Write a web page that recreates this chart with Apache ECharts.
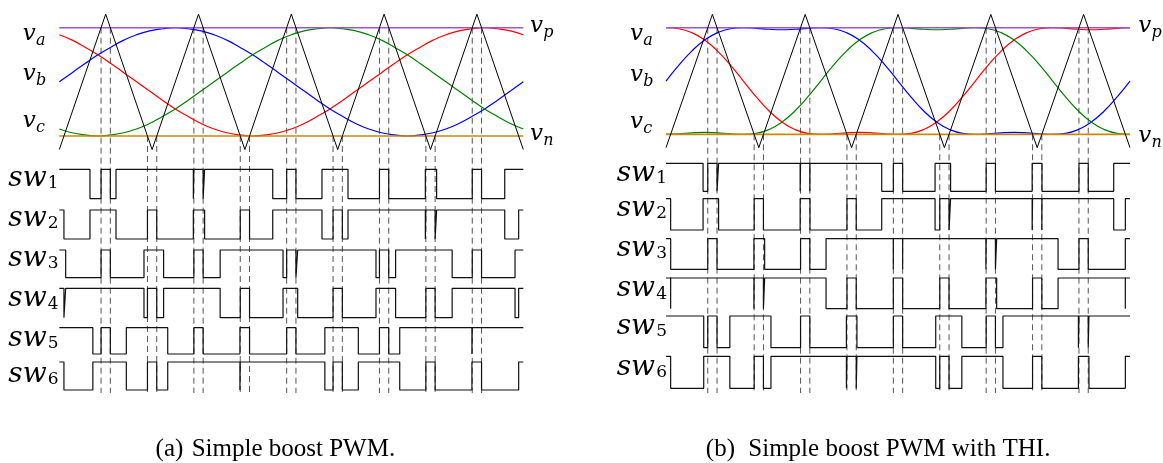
<!DOCTYPE html>
<html><head><meta charset="utf-8">
<script src="https://cdn.jsdelivr.net/npm/echarts@6/dist/echarts.min.js"></script>
<style>html,body{margin:0;padding:0;background:#fff}#c{width:1163px;height:463px}</style>
</head><body><div id="c"></div>
<script>
// ---------- DATA (angle in degrees over one fundamental period) ----------
const theta = [0,10,20,30,40,50,60,70,80,90,100,110,120,130,140,150,160,170,180,190,200,210,220,230,240,250,260,270,280,290,300,310,320,330,340,350,360];
// (a) simple boost: sinusoidal references
const vaA = [0.87,0.77,0.64,0.5,0.34,0.17,0,-0.17,-0.34,-0.5,-0.64,-0.77,-0.87,-0.94,-0.98,-1,-0.98,-0.94,-0.87,-0.77,-0.64,-0.5,-0.34,-0.17,0,0.17,0.34,0.5,0.64,0.77,0.87,0.94,0.98,1,0.98,0.94,0.87];
const vbA = [0,0.17,0.34,0.5,0.64,0.77,0.87,0.94,0.98,1,0.98,0.94,0.87,0.77,0.64,0.5,0.34,0.17,0,-0.17,-0.34,-0.5,-0.64,-0.77,-0.87,-0.94,-0.98,-1,-0.98,-0.94,-0.87,-0.77,-0.64,-0.5,-0.34,-0.17,0];
const vcA = [-0.87,-0.94,-0.98,-1,-0.98,-0.94,-0.87,-0.77,-0.64,-0.5,-0.34,-0.17,0,0.17,0.34,0.5,0.64,0.77,0.87,0.94,0.98,1,0.98,0.94,0.87,0.77,0.64,0.5,0.34,0.17,0,-0.17,-0.34,-0.5,-0.64,-0.77,-0.87];
// (b) with third harmonic injection
const vaB = [1.0,0.981,0.909,0.770,0.562,0.297,0,-0.297,-0.562,-0.770,-0.909,-0.981,-1.0,-0.989,-0.971,-0.962,-0.971,-0.989,-1.0,-0.981,-0.909,-0.770,-0.562,-0.297,0,0.297,0.562,0.770,0.909,0.981,1.0,0.989,0.971,0.962,0.971,0.989,1.0];
const vbB = [0,0.297,0.562,0.770,0.909,0.981,1.0,0.989,0.971,0.962,0.971,0.989,1.0,0.981,0.909,0.770,0.562,0.297,0,-0.297,-0.562,-0.770,-0.909,-0.981,-1.0,-0.989,-0.971,-0.962,-0.971,-0.989,-1.0,-0.981,-0.909,-0.770,-0.562,-0.297,0];
const vcB = [-1.0,-0.989,-0.971,-0.962,-0.971,-0.989,-1.0,-0.981,-0.909,-0.770,-0.562,-0.297,0,0.297,0.562,0.770,0.909,0.981,1.0,0.989,0.971,0.962,0.971,0.989,1.0,0.981,0.909,0.770,0.562,0.297,0,-0.297,-0.562,-0.770,-0.909,-0.981,-1.0];
// triangular carrier and DC rails
const carrierT = [0,36,72,108,144,180,216,252,288,324,360];
const carrierV = [-1.25,1.25,-1.25,1.25,-1.25,1.25,-1.25,1.25,-1.25,1.25,-1.25];
const railP = 1, railN = -1;
// shoot-through boundaries (carrier beyond vp / below vn)
const stPeak = [32.4,39.6,104.4,111.6,176.4,183.6,248.4,255.6,320.4,327.6];
const stTrough = [68.4,75.6,140.4,147.6,212.4,219.6,284.4,291.6];
// switching signals: intervals where the switch is ON
const sw1A = [[0,23.8],[32.4,39.6],[44,104],[104.4,111.6],[112.75,165.6],[176.4,183.6],[203.8,224],[248.4,255.6],[284,292.75],[320.4,327.6],[345.6,360]];
const sw2A = [[0,3.6],[23.8,44],[68.4,75.6],[104,112.75],[140.4,147.6],[165.6,203.8],[212.4,219.6],[224,284],[284.4,291.6],[292.75,345.6],[356.4,360]];
const sw3A = [[0,4.95],[32.4,39.6],[65.7,80.93],[104.4,111.6],[124.8,173.58],[176.4,183.6],[184.95,245.7],[248.4,255.6],[260.93,304.8],[320.4,327.6],[353.58,360]];
const sw4A = [[0,3.6],[4.95,65.7],[68.4,75.6],[80.93,124.8],[140.4,147.6],[173.58,184.95],[212.4,219.6],[245.7,260.93],[284.4,291.6],[304.8,353.58],[356.4,360]];
const sw5A = [[0,26.03],[32.4,39.6],[52,84.12],[104.4,111.6],[140.15,147.61],[176.4,183.6],[206.03,232],[248.4,255.6],[264.12,320.15],[320.4,360]];
const sw6A = [[0,3.6],[26.03,52],[68.4,75.6],[84.12,140.15],[140.4,206.03],[212.4,219.6],[232,264.12],[284.4,291.6],[320.15,327.61],[356.4,360]];
const sw1B = [[0,28.77],[32.4,39.6],[40.8,104.08],[104.4,111.6],[111.71,167.36],[176.4,183.6],[208.77,220.8],[248.4,255.6],[284.08,291.71],[320.4,327.6],[347.36,360]];
const sw2B = [[0,3.6],[28.77,40.8],[68.4,75.6],[104.08,111.71],[140.4,147.6],[167.36,208.77],[212.4,219.6],[220.8,284.08],[284.4,291.6],[291.71,347.36],[356.4,360]];
const sw3B = [[0,3.63],[32.4,39.6],[68.22,76.55],[104.4,111.6],[124.18,176.37],[176.4,183.6],[183.63,248.22],[248.4,255.6],[256.55,304.18],[320.4,327.6],[356.37,360]];
const sw4B = [[0,3.6],[3.63,68.22],[68.4,75.6],[76.55,124.18],[140.4,147.6],[176.37,183.63],[212.4,219.6],[248.22,256.55],[284.4,291.6],[304.18,356.37],[356.4,360]];
const sw5B = [[0,29.26],[32.4,39.6],[49.54,81.43],[104.4,111.6],[139.97,148.14],[176.4,183.6],[209.26,229.54],[248.4,255.6],[261.43,319.97],[320.4,327.6],[328.14,360]];
const sw6B = [[0,3.6],[29.26,49.54],[68.4,75.6],[81.43,139.97],[140.4,147.6],[148.14,209.26],[212.4,219.6],[229.54,261.43],[284.4,291.6],[319.97,328.14],[356.4,360]];
const refLabels = ['a','b','c'];
const swLabels = ['1','2','3','4','5','6'];
const captions = [['(a)','Simple boost PWM.'],['(b)','Simple boost PWM with THI.']];

// ---------- LAYOUT ----------
const W = 464;
const panels = [
  {left:59.3, waveTop:14.15, waveH:135.4, vpPx:27.7, vnPx:136.0, bottom:393,
   rows:[[169.3,198.7],[210,239],[250,277.7],[288.3,317.7],[327.7,354],[362,390]],
   waves:[vaA,vbA,vcA], sws:[sw1A,sw2A,sw3A,sw4A,sw5A,sw6A],
   refLab:{x:22.7, ys:[34.2,74.2,120.8]}, railLab:{x:530, yp:25.8, yn:134},
   swLab:{x:8.3, ys:[178.3,218.3,258.5,299.2,338.8,374.8]},
   cap:{xr:183.3, xl:191.7, y:449}},
  {left:666, waveTop:14.4, waveH:133.25, vpPx:27.7, vnPx:134.3, bottom:393,
   rows:[[163.3,191.3],[198.7,230],[238.7,269.3],[278,308.7],[316,347.7],[356.3,388.3]],
   waves:[vaB,vbB,vcB], sws:[sw1B,sw2B,sw3B,sw4B,sw5B,sw6B],
   refLab:{x:630, ys:[34.2,75,122.5]}, railLab:{x:1138.3, yp:25.8, yn:135.8},
   swLab:{x:616.7, ys:[173.3,208.3,248.8,289.2,326.7,367.5]},
   cap:{xr:735, xl:748.3, y:449}}
];
const waveColors = ['#ff0000','#0000ff','#008000'];
const colP = '#9b55d8', colN = '#c98a06';

const grids=[], xAxes=[], yAxes=[], series=[], graphics=[];
function addGrid(left, top, height, ymin, ymax){
  const i = grids.length;
  grids.push({left:left, top:top, width:W, height:height});
  xAxes.push({type:'value', gridIndex:i, min:0, max:360, show:false});
  yAxes.push({type:'value', gridIndex:i, min:ymin, max:ymax, show:false});
  return i;
}
function stepData(iv){
  const pts=[];
  if(iv[0][0] > 0) pts.push([0,0]);
  for(const [a,b] of iv){
    if(a>0){ pts.push([a,0]); pts.push([a,1]); } else pts.push([0,1]);
    pts.push([b,1]);
    if(b<360) pts.push([b,0]);
  }
  if(iv[iv.length-1][1] < 360) pts.push([360,0]);
  return pts;
}
function dashData(list){
  const d=[];
  list.forEach(t=>{ d.push([t,1]); d.push([t,0]); d.push([t,'-']); });
  return d;
}
function text(x,y,str,font,align){
  graphics.push({type:'text', x:x, y:y, silent:true, z:100,
    style:{text:str, font:font, fill:'#000', align:align||'left', verticalAlign:'middle'}});
}
const mathFont = s => 'italic '+s+'px "DejaVu Serif"';

panels.forEach(p=>{
  // dashed shoot-through markers
  const gP = addGrid(p.left, p.vpPx, p.bottom-p.vpPx, 0, 1);
  const gT = addGrid(p.left, p.vnPx, p.bottom-p.vnPx, 0, 1);
  [[gP,stPeak],[gT,stTrough]].forEach(([g,l])=>{
    series.push({type:'line', xAxisIndex:g, yAxisIndex:g, data:dashData(l), connectNulls:false,
      showSymbol:false, silent:true, animation:false, clip:false, z:1,
      lineStyle:{color:'#555', width:1, type:[6,4]}});
  });
  // reference waves
  const gw = addGrid(p.left, p.waveTop, p.waveH, -1.25, 1.25);
  p.waves.forEach((arr,k)=>{
    series.push({type:'line', xAxisIndex:gw, yAxisIndex:gw, data:theta.map((t,i)=>[t,arr[i]]),
      smooth:0.5, showSymbol:false, silent:true, animation:false, clip:false, z:2,
      lineStyle:{color:waveColors[k], width:1.2}});
  });
  series.push({type:'line', xAxisIndex:gw, yAxisIndex:gw, data:[[0,railP],[360,railP]],
    showSymbol:false, silent:true, animation:false, clip:false, z:3, lineStyle:{color:colP, width:1.6}});
  series.push({type:'line', xAxisIndex:gw, yAxisIndex:gw, data:[[0,railN],[360,railN]],
    showSymbol:false, silent:true, animation:false, clip:false, z:3, lineStyle:{color:colN, width:1.6}});
  series.push({type:'line', xAxisIndex:gw, yAxisIndex:gw, data:carrierT.map((t,i)=>[t,carrierV[i]]),
    showSymbol:false, silent:true, animation:false, clip:false, z:4, lineStyle:{color:'#000', width:1}});
  // switching signals
  p.rows.forEach((r,k)=>{
    const g = addGrid(p.left, r[0], r[1]-r[0], 0, 1);
    series.push({type:'line', xAxisIndex:g, yAxisIndex:g, data:stepData(p.sws[k]),
      showSymbol:false, silent:true, animation:false, clip:false, z:5,
      lineStyle:{color:'#111', width:1.2, join:'bevel', cap:'butt'}});
  });
  // labels
  refLabels.forEach((s,k)=>{
    text(p.refLab.x, p.refLab.ys[k], 'v', mathFont(23));
    text(p.refLab.x+13.3, p.refLab.ys[k]+6.6, s, mathFont(16));
  });
  text(p.railLab.x, p.railLab.yp, 'v', mathFont(23));
  text(p.railLab.x+13.3, p.railLab.yp+6.6, 'p', mathFont(16));
  text(p.railLab.x, p.railLab.yn, 'v', mathFont(23));
  text(p.railLab.x+13.3, p.railLab.yn+6.6, 'n', mathFont(16));
  swLabels.forEach((s,k)=>{
    text(p.swLab.x, p.swLab.ys[k], 'sw', mathFont(28));
    text(p.swLab.x+39.5, p.swLab.ys[k]+5, s, 'normal 17px "DejaVu Serif"');
  });
});
captions.forEach((c,k)=>{
  const p = panels[k];
  text(p.cap.xr, p.cap.y, c[0], 'normal 25px "Liberation Serif"', 'right');
  text(p.cap.xl, p.cap.y, c[1], 'normal 25px "Liberation Serif"', 'left');
});

const chart = echarts.init(document.getElementById('c'));
chart.setOption({
  animation:false, backgroundColor:'#fff',
  grid:grids, xAxis:xAxes, yAxis:yAxes, series:series, graphic:graphics
});
</script></body></html>
